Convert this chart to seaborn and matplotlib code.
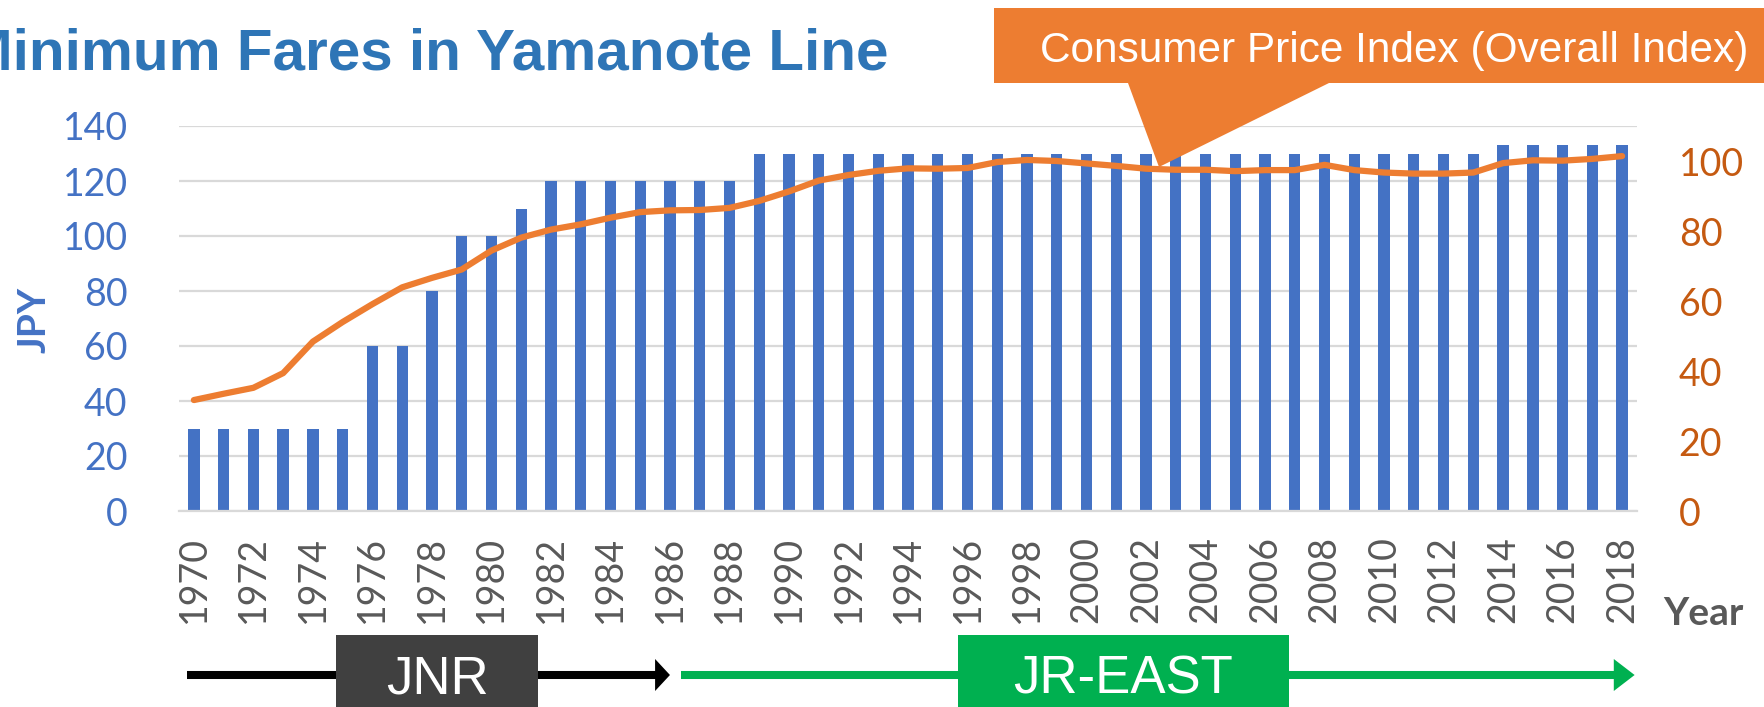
import numpy as np
import pandas as pd
import matplotlib
matplotlib.use("Agg")
import matplotlib.pyplot as plt
from matplotlib import transforms
from matplotlib.patches import Polygon, Rectangle
from matplotlib.lines import Line2D
import seaborn as sns

# ---- data -------------------------------------------------------------
years = list(range(1970, 2019))
fares = [30, 30, 30, 30, 30, 30, 60, 60, 80, 100, 100, 110,
         120, 120, 120, 120, 120, 120, 120,
         130, 130, 130, 130, 130, 130, 130, 130, 130, 130, 130, 130, 130,
         130, 130, 130, 130, 130, 130, 130, 130, 130, 130, 130, 130,
         133, 133, 133, 133, 133]
cpi = [31.7, 33.5, 35.2, 39.4, 48.4, 54.0, 59.1, 63.9, 66.6, 69.0,
       74.4, 78.1, 80.4, 81.9, 83.8, 85.4, 85.9, 86.0, 86.6, 88.6,
       91.3, 94.4, 96.0, 97.2, 97.9, 97.8, 98.0, 99.7, 100.3, 100.0,
       99.3, 98.6, 97.8, 97.5, 97.5, 97.1, 97.4, 97.4, 98.9, 97.4,
       96.7, 96.4, 96.4, 96.7, 99.4, 100.2, 100.1, 100.6, 101.4]
fare_ticks = list(range(0, 141, 20))
cpi_ticks = list(range(0, 101, 20))

df = pd.DataFrame({"year": years, "fare": fares, "cpi": cpi})

# ---- style ------------------------------------------------------------
sns.set_theme(style="white")
plt.rcParams["font.family"] = ["Lato", "DejaVu Sans"]

W, H = 1764, 707
BLUE = "#4472C4"
ORANGE = "#ED7D31"
GRID = "#D9D9D9"
GREY = "#595959"


def fx(px):
    return px / W


def fy(py):
    return 1 - py / H


fig = plt.figure(figsize=(W / 100, H / 100), dpi=100)
fig.patch.set_facecolor("white")
ax = fig.add_axes([fx(179), fy(511), (1637 - 179) / W, (511 - 126) / H])

# fares as bars
sns.barplot(data=df, x="year", y="fare", color=BLUE, saturation=1,
            width=0.38, linewidth=0, ax=ax)
ax.set_xlim(-0.5, len(years) - 0.5)
ax.set_ylim(0, 140)
ax.set_yticks(fare_ticks)
ax.set_xticks(range(0, len(years), 2))
ax.set_xticklabels([str(y) for y in years[::2]], rotation=90)
ax.yaxis.grid(True, color=GRID, lw=1.6)
ax.set_axisbelow(True)
for side in ["top", "right", "left"]:
    ax.spines[side].set_visible(False)
ax.spines["bottom"].set_color(GRID)
ax.spines["bottom"].set_linewidth(1.6)
ax.set_xlabel("")
ax.set_ylabel("")
ax.tick_params(axis="y", length=0, pad=37, labelsize=27, labelcolor=BLUE)
ax.tick_params(axis="x", length=0, pad=18, labelsize=27, labelcolor=GREY)

# consumer price index on the secondary axis
ax2 = ax.twinx()
sns.lineplot(x=np.arange(len(years)), y=df["cpi"], color=ORANGE, lw=4.5,
             ax=ax2, solid_capstyle="round")
ax2.set_ylim(0, 110)
ax2.set_yticks(cpi_ticks)
ax2.grid(False)
for side in ["top", "right", "left", "bottom"]:
    ax2.spines[side].set_visible(False)
ax2.set_ylabel("")
ax2.tick_params(axis="y", length=0, pad=30, labelsize=27, labelcolor="#C55A11")

# titles and axis names
fig.text(fx(889), fy(69), "Minimum Fares in Yamanote Line", ha="right",
         va="baseline", fontsize=42, fontweight="bold", color="#2E75B6",
         family=["Liberation Sans", "DejaVu Sans"])
fig.text(fx(34), fy(320), "JPY", rotation=90, ha="center", va="center",
         fontsize=28, fontweight="bold", color=BLUE)
fig.text(fx(1663), fy(625), "Year", ha="left", va="baseline",
         fontsize=28, fontweight="bold", color=GREY)

# callout for the price index
callout = [(994, 8), (1770, 8), (1770, 83), (1329, 83), (1159, 167),
           (1128, 83), (994, 83)]
fig.add_artist(Polygon([(fx(x), fy(y)) for x, y in callout], closed=True,
                       facecolor=ORANGE, edgecolor="none",
                       transform=fig.transFigure))
fig.text(fx(1040), fy(62), "Consumer Price Index (Overall Index)",
         ha="left", va="baseline", fontsize=30.5, color="white",
         family=["Liberation Sans", "DejaVu Sans"])

# operator timeline below the axis
blend = transforms.blended_transform_factory(ax.transData, fig.transFigure)
yl = fy(675)
head_h = 16 / H
box_top = fy(635)


def arrow(x0, x1, head_len, color):
    fig.add_artist(Line2D([x0, x1 - head_len * 0.5], [yl, yl], color=color,
                          lw=5.8, solid_capstyle="butt", transform=blend,
                          zorder=2))
    fig.add_artist(Polygon([(x1 - head_len, yl + head_h), (x1, yl),
                            (x1 - head_len, yl - head_h)], closed=True,
                           facecolor=color, edgecolor="none",
                           transform=blend, zorder=2))


def label_box(x0, x1, text, color):
    fig.add_artist(Rectangle((x0, 0), x1 - x0, box_top,
                             facecolor=color, edgecolor="none",
                             transform=blend, zorder=3))
    fig.text((x0 + x1) / 2, fy(679), text, ha="center", va="center",
             fontsize=38, color="white", transform=blend, zorder=4,
             family=["Liberation Sans", "DejaVu Sans"])


arrow(-0.23, 16.0, 0.5, "black")
arrow(16.37, 48.42, 0.7, "#00B050")
label_box(4.78, 11.56, "JNR", "#404040")
label_box(25.68, 36.8, "JR-EAST", "#00B050")

fig.savefig("out.png", dpi=100)
